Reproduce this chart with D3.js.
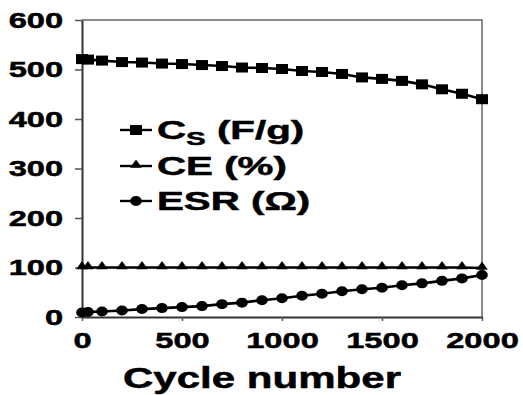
<!DOCTYPE html>
<html>
<head>
<meta charset="utf-8">
<script src="https://cdn.jsdelivr.net/npm/d3@7"></script>
<style>
  body { margin: 0; background: #fff; }
  text { font-family: "Liberation Sans", Arial, sans-serif; font-weight: bold; fill: #000;
         stroke: #000; stroke-width: 0.5px; }
</style>
</head>
<body>
<div id="chart"></div>
<script>
// Data
const cycles = [0, 30, 100, 200, 300, 400, 500, 600, 700, 800, 900, 1000,
                1100, 1200, 1300, 1400, 1500, 1600, 1700, 1800, 1900, 2000];
const csValues  = [521, 520, 518, 515, 514, 512, 511, 509, 507, 504, 503, 501,
                   497, 495, 491, 484, 481, 477, 470, 460, 451, 440];
const ceValues  = [100, 100, 100, 100, 100, 100, 100, 100, 100, 100, 100, 100,
                   100, 100, 100, 100, 100, 100, 100, 100, 100, 99];
const esrValues = [9, 10, 11, 13, 16, 18, 20, 22, 26, 29, 34, 38,
                   43, 47, 52, 56, 59, 64, 68, 73, 78, 85];
const xTicks = [0, 500, 1000, 1500, 2000];
const yTicks = [0, 100, 200, 300, 400, 500, 600];
const seriesNames = ["Cs (F/g)", "CE (%)", "ESR (\u03A9)"];

// text in the picture is stretched sideways
const SX = 1.45;
const SX_LEGEND = 1.55;

const W = 523, H = 395;
const margin = { top: 20, right: 41, bottom: 78, left: 82 },
      width  = W - margin.left - margin.right,
      height = H - margin.top - margin.bottom;

const svg = d3.select("#chart")
  .append("svg")
  .attr("width", W)
  .attr("height", H);

const g = svg.append("g")
  .attr("transform", `translate(${margin.left}, ${margin.top})`);

const x = d3.scaleLinear().domain([0, 2000]).range([0, width]);
const y = d3.scaleLinear().domain([0, 600]).range([height, 0]);

// frame top / right
g.append("path")
  .attr("d", `M0,0H${width}V${height}`)
  .attr("fill", "none")
  .attr("stroke", "#666")
  .attr("stroke-width", 1.5);

// axes
const yAxis = g.append("g")
  .call(d3.axisLeft(y).tickValues(yTicks).tickSize(7).tickPadding(6).tickSizeOuter(0));
yAxis.selectAll("text")
  .style("font-size", "22.5px")
  .attr("transform", `scale(${SX},1)`);

const xAxis = g.append("g")
  .attr("transform", `translate(0, ${height})`)
  .call(d3.axisBottom(x).tickValues(xTicks).tickFormat(d3.format("d"))
    .tickSize(4).tickPadding(11).tickSizeOuter(0));
xAxis.selectAll("text")
  .style("font-size", "22.5px")
  .attr("transform", `scale(${SX},1)`);

[yAxis, xAxis].forEach(a => {
  a.select(".domain").attr("stroke", "#333").attr("stroke-width", 2);
  a.selectAll(".tick line").attr("stroke", "#555").attr("stroke-width", 1.5);
  a.selectAll("text").attr("fill", "#000");
});

// axis title
g.append("text")
  .attr("transform", `translate(${262 - margin.left}, ${388 - margin.top}) scale(${SX},1)`)
  .attr("text-anchor", "middle")
  .style("font-size", "29px")
  .text("Cycle number");

// series
const series = [csValues, ceValues, esrValues].map(vals =>
  cycles.map((c, i) => ({ c: c, v: vals[i] })));

const line = d3.line().x(d => x(d.c)).y(d => y(d.v));

series.forEach(s => {
  g.append("path")
    .datum(s)
    .attr("fill", "none")
    .attr("stroke", "#000")
    .attr("stroke-width", 2.6)
    .attr("d", line);
});

const tri = d3.symbol().type(d3.symbolTriangle).size(38);

function marker(sel, kind, cx, cy) {
  if (kind === 0) {
    sel.append("rect")
      .attr("x", cx - 6).attr("y", cy - 5)
      .attr("width", 12).attr("height", 10)
      .attr("fill", "#000");
  } else if (kind === 1) {
    sel.append("path")
      .attr("d", tri)
      .attr("transform", `translate(${cx}, ${cy - 1}) scale(1.25,1)`)
      .attr("fill", "#000");
  } else {
    sel.append("ellipse")
      .attr("cx", cx).attr("cy", cy)
      .attr("rx", 5.8).attr("ry", 5)
      .attr("fill", "#000");
  }
}

// draw circles first, then triangles, squares on top
[2, 1, 0].forEach(k => {
  series[k].forEach(d => marker(g, k, x(d.c), y(d.v)));
});

// legend
const legendRows = [130, 166, 201];
seriesNames.forEach((name, i) => {
  const ly = legendRows[i];
  svg.append("line")
    .attr("x1", 120).attr("x2", 152)
    .attr("y1", ly).attr("y2", ly)
    .attr("stroke", "#000")
    .attr("stroke-width", 2.4);
  marker(svg, i, 136, ly);

  const t = svg.append("text")
    .attr("transform", `translate(157, ${ly + 9}) scale(${SX_LEGEND},1)`)
    .style("font-size", "26px");
  if (i === 0) {
    t.append("tspan").text("C");
    t.append("tspan").attr("dy", 6).style("font-size", "19px").text("S");
    t.append("tspan").attr("dy", -6).text(" (F/g)");
  } else {
    t.text(name);
  }
});
</script>
</body>
</html>
